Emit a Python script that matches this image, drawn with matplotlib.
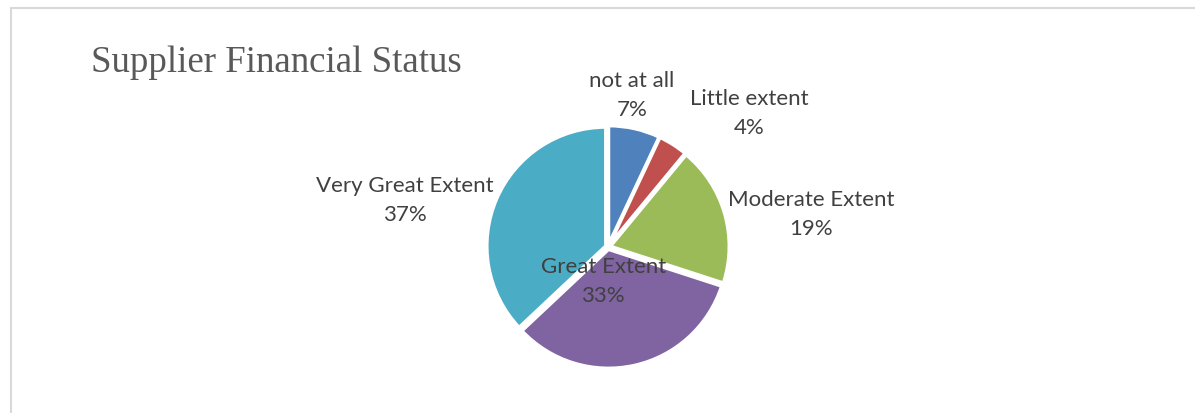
import numpy as np
import matplotlib.pyplot as plt
from matplotlib.lines import Line2D

# Supplier financial status - share of responses
categories = ["not at all", "Little extent", "Moderate Extent", "Great Extent", "Very Great Extent"]
shares = [7, 4, 19, 33, 37]
colors = ["#4F81BD", "#C0504D", "#9BBB59", "#8064A2", "#4BACC6"]

# label spots in pie-radius units (x, y)
label_pos = [(0.20, 1.28), (1.19, 1.13), (1.71, 0.28), (-0.04, -0.28), (-1.71, 0.40)]

fig = plt.figure(figsize=(11.95, 4.14), dpi=100)

# light chart-area border (left and top)
fig.add_artist(Line2D([11 / 1195, 11 / 1195], [0, 405 / 414], color="#D9D9D9", lw=1.5))
fig.add_artist(Line2D([11 / 1195, 1], [405 / 414, 405 / 414], color="#D9D9D9", lw=1.5))

fig.text(91 / 1195, 1 - 72 / 414, "Supplier Financial Status", family="Liberation Serif",
         fontsize=26.6, color="#595959", ha="left", va="baseline")

ax = fig.add_axes([489 / 1195, 47 / 414, 238 / 1195, 238 / 414])
ax.pie(shares, colors=colors, startangle=90, counterclock=False,
       explode=[0.02] * len(shares),
       wedgeprops=dict(edgecolor="white", linewidth=2.5))
ax.set_xlim(-1, 1)
ax.set_ylim(-1, 1)
ax.set_aspect("equal")
ax.axis("off")

for name, val, (x, y) in zip(categories, shares, label_pos):
    ax.text(x, y, f"{name}\n{val}%", ha="center", va="center", family="Lato",
            fontsize=16, color="#404040", linespacing=1.55, clip_on=False)

plt.savefig("out.png", dpi=100)
